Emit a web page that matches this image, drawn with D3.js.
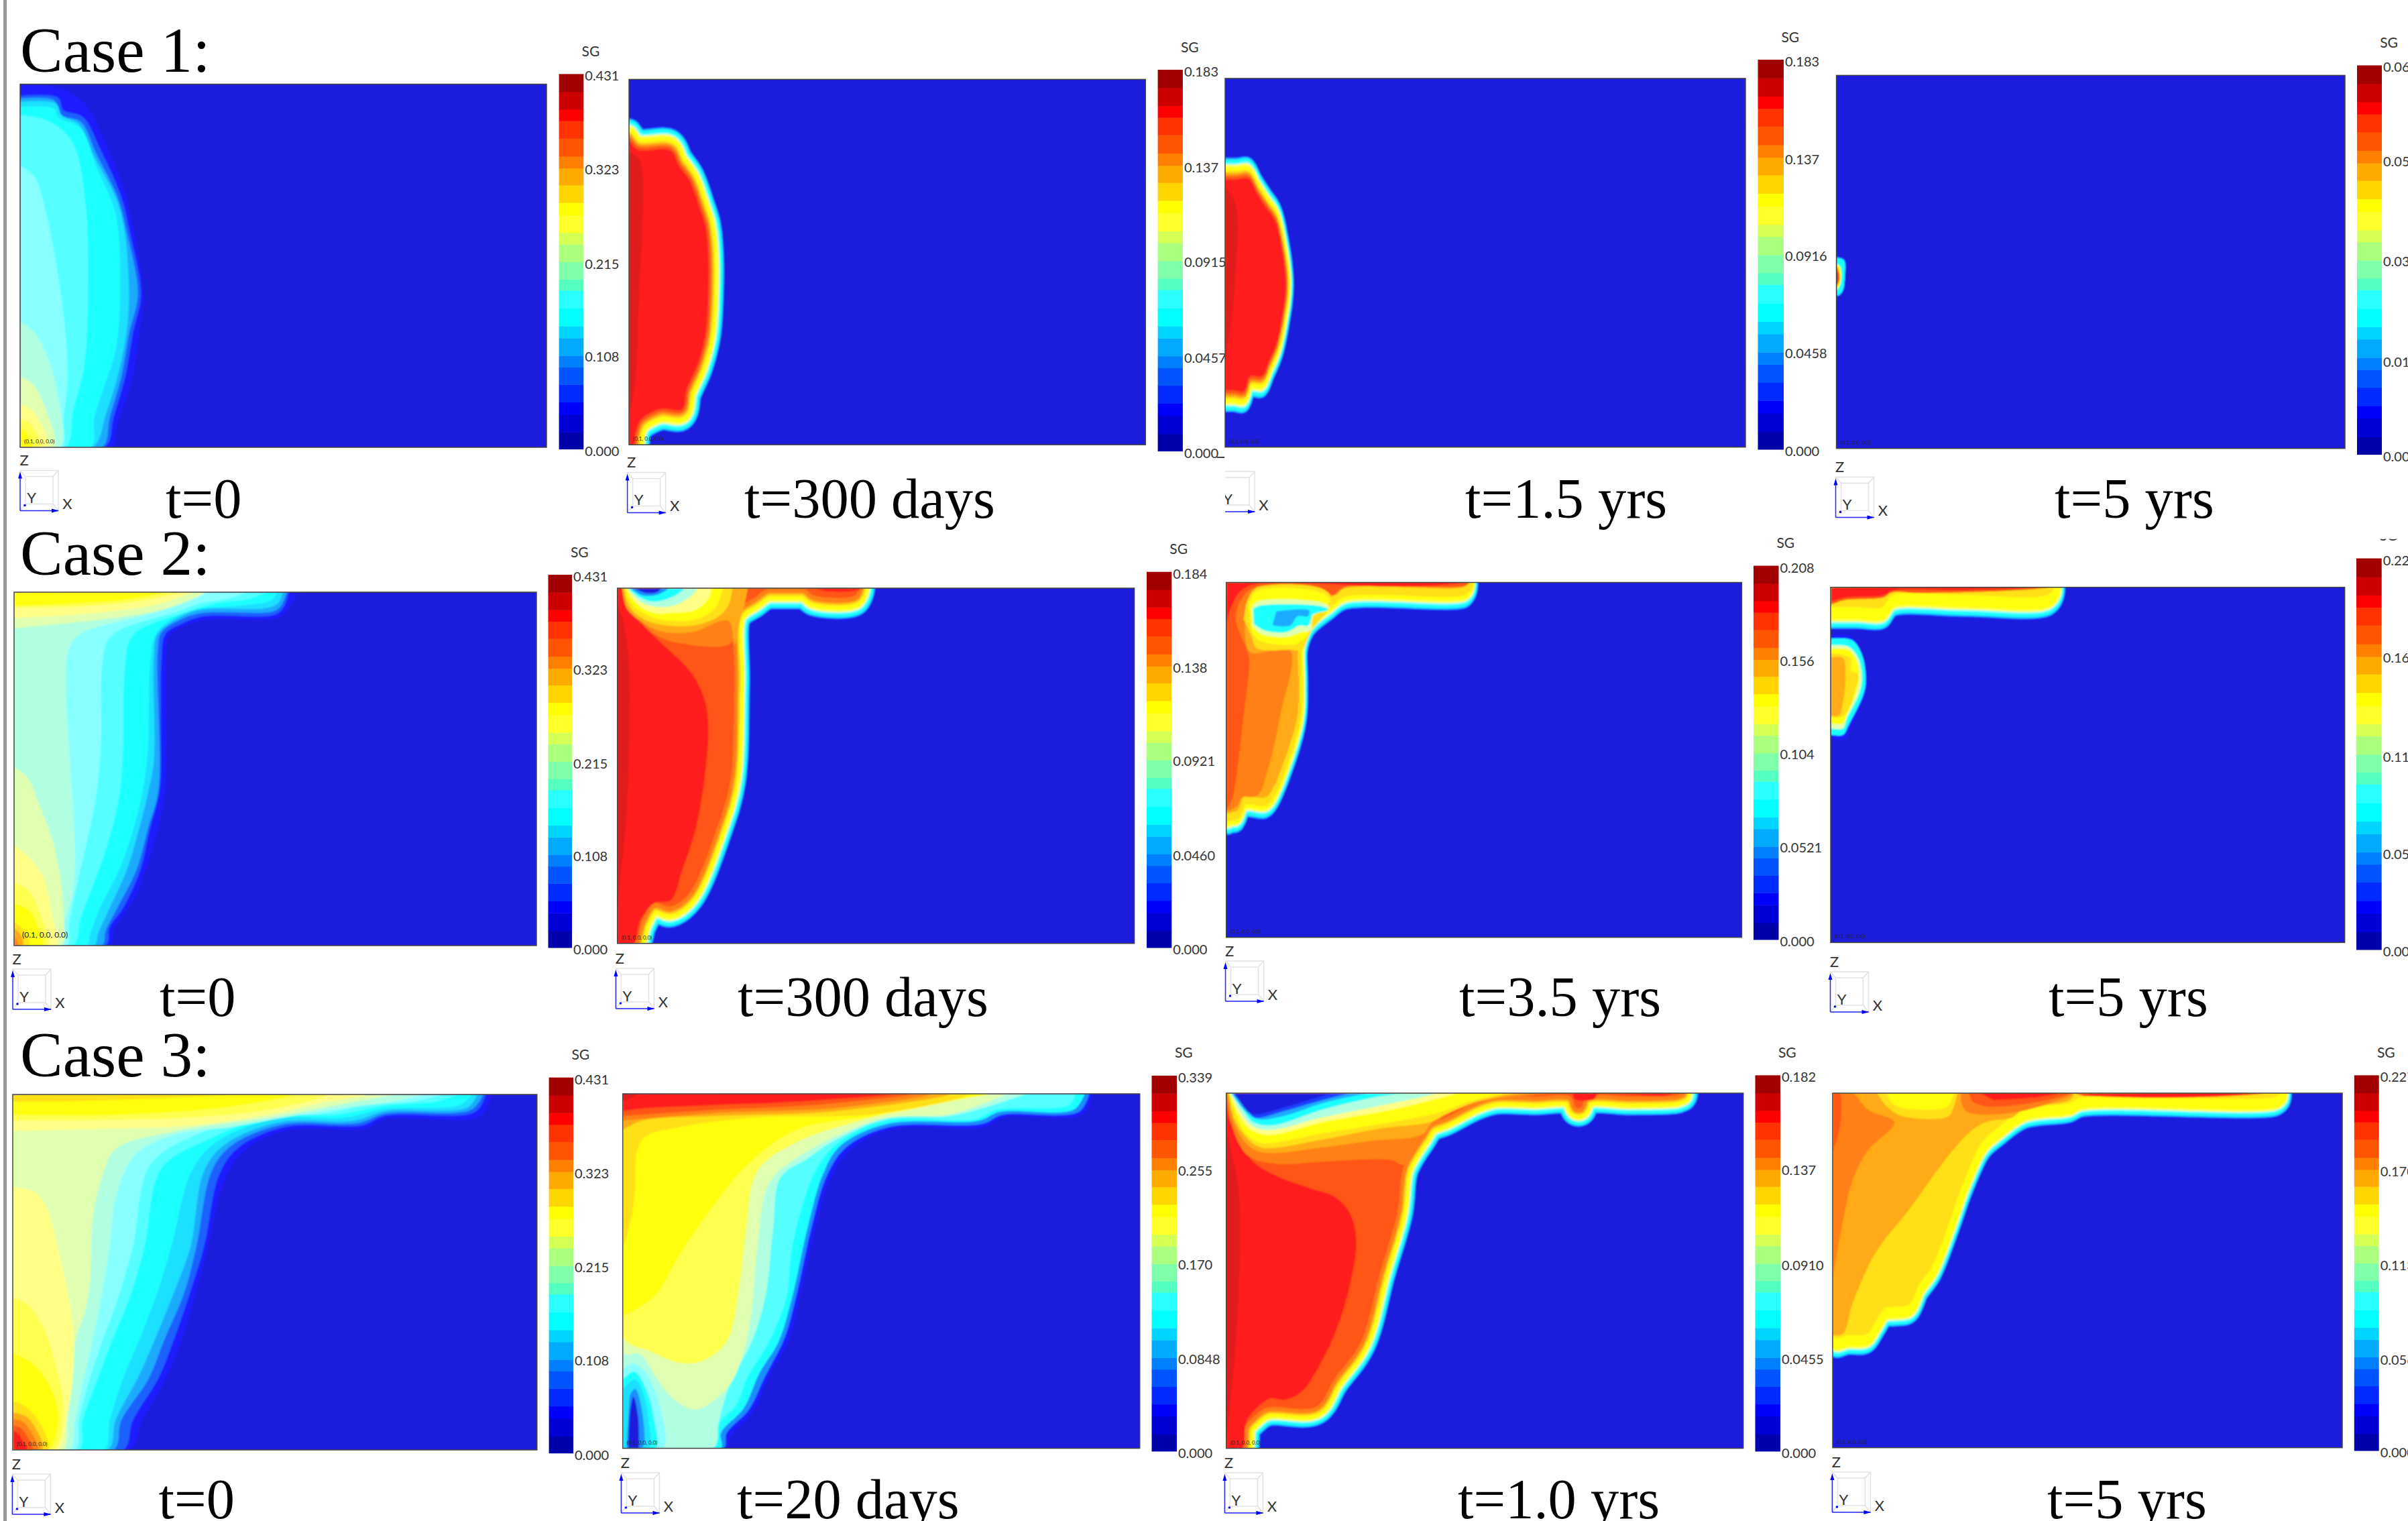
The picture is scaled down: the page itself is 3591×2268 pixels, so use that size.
<!DOCTYPE html>
<html>
<head>
<meta charset="utf-8">
<script src="https://cdn.jsdelivr.net/npm/d3@7"></script>
<style>
  html, body { margin: 0; padding: 0; background: #fff; overflow: hidden; }
</style>
</head>
<body>
<div id="chart"></div>
<script>
// Colour classes of the SG map, lowest class first
const barColors = ["#0000aa", "#0000d5", "#0000ff", "#002aff", "#0055ff", "#0080ff", "#00aaff", "#00d5ff",
    "#00ffff", "#2affff", "#55ffc0", "#80ffaa", "#aaff7f", "#d4ff55", "#ffff2a", "#ffff00",
    "#ffd500", "#ffaa00", "#ff8000", "#ff5500", "#ff3300", "#ff0000", "#cc0000", "#a00000"];
// The same classes as they look on the lit surface of the model
const surfaceColors = ["#1a1adc", "#1a1adc", "#1a1aff", "#1a40ff", "#1a60ff", "#1a8cff", "#1aaaff", "#1ae0ff",
    "#1affff", "#55ffff", "#88ffff", "#b0ffe0", "#e0ffb0", "#ffff88", "#ffff50", "#ffff10",
    "#ffe018", "#ffaa18", "#ff8018", "#ff5518", "#ff1e1e", "#e01a1a", "#cc0000", "#a00000"];
// Class limits along the colour bar, as a share of the SG maximum
const barStops = [0, .045, .093, .125, .172, .218, .249, .296, .328, .375, .423, .453, .499,
    .546, .577, .624, .657, .704, .749, .781, .829, .875, .906, .953, 1];

const caseLabels = ["Case 1:", "Case 2:", "Case 3:"];

// SG tick labels per panel
const ticks11 = ["0.431", "0.323", "0.215", "0.108", "0.000"];
const ticks12 = ["0.183", "0.137", "0.0915", "0.0457", "0.000"];
const ticks13 = ["0.183", "0.137", "0.0916", "0.0458", "0.000"];
const ticks14 = ["0.066", "0.050", "0.033", "0.016", "0.000"];
const ticks22 = ["0.184", "0.138", "0.0921", "0.0460", "0.000"];
const ticks23 = ["0.208", "0.156", "0.104", "0.0521", "0.000"];
const ticks24 = ["0.225", "0.169", "0.112", "0.056", "0.000"];
const ticks32 = ["0.339", "0.255", "0.170", "0.0848", "0.000"];
const ticks33 = ["0.182", "0.137", "0.0910", "0.0455", "0.000"];
const ticks34 = ["0.227", "0.170", "0.113", "0.056", "0.000"];

// Contours: [class, outline] painted outermost first.
// A third item "front" marks the inner edge of a sharp front, the thin classes around it are stroked out from it.
const contours11 = [
    [2, [[52,255],[150,262],[220,310],[270,420],[320,560],[345,680],[368,830],[372,900],[355,1050],[345,1130],[320,1220],[300,1290],[290,1340],[52,1340]]],
    [4, [[52,287],[150,292],[165,330],[215,350],[262,450],[315,590],[338,700],[366,880],[345,1000],[325,1130],[295,1250],[272,1340],[52,1340]]],
    [6, [[52,295],[140,300],[160,345],[210,365],[250,460],[305,590],[328,690],[358,880],[335,1000],[315,1130],[285,1250],[265,1340],[52,1340]]],
    [7, [[52,305],[145,310],[160,345],[205,372],[245,470],[300,590],[322,680],[335,880],[328,1000],[305,1130],[275,1240],[240,1340],[52,1340]]],
    [8, [[52,320],[140,325],[150,350],[210,385],[250,500],[300,640],[312,880],[300,1050],[270,1160],[245,1250],[235,1340],[52,1340]]],
    [9, [[52,345],[120,360],[185,420],[220,590],[228,900],[218,1100],[190,1230],[170,1340],[52,1340]]],
    [10, [[52,495],[90,530],[120,640],[150,820],[170,1000],[175,1150],[165,1250],[160,1340],[52,1340]]],
    [11, [[52,965],[85,990],[120,1060],[150,1180],[155,1340],[52,1340]]],
    [12, [[52,1128],[85,1150],[120,1230],[140,1340],[52,1340]]],
    [13, [[52,1210],[80,1225],[115,1290],[125,1340],[52,1340]]],
    [14, [[52,1255],[75,1265],[95,1300],[105,1340],[52,1340]]],
    [15, [[52,1280],[70,1300],[85,1340],[52,1340]]]
];
const contours12 = [
    [20, [[66,420],[88,448],[175,452],[195,495],[225,545],[250,625],[265,680],[272,760],[272,880],[265,1000],[245,1090],[215,1170],[205,1225],[150,1225],[118,1240],[95,1260],[82,1300],[78,1333],[66,1333]], "front"],
    [21, [[66,455],[88,470],[100,510],[100,700],[92,880],[85,1100],[75,1200],[66,1240]]]
];
const contours13 = [
    [20, [[47,538],[75,538],[110,538],[130,580],[155,625],[178,665],[190,720],[205,850],[195,950],[180,1030],[160,1085],[145,1125],[110,1130],[98,1170],[70,1170],[47,1170]], "front"],
    [21, [[47,560],[70,600],[80,660],[75,800],[65,950],[52,1050],[47,1100]]]
];
const contours14 = [
    [2, [[68,768],[90,776],[92,830],[87,872],[77,888],[68,888]]],
    [8, [[68,772],[88,780],[90,830],[85,870],[75,885],[68,885]]],
    [15, [[68,790],[78,800],[80,840],[75,860],[68,870]]],
    [18, [[68,797],[74,810],[76,840],[68,862]]],
    [21, [[68,805],[73,820],[73,845],[68,855]]]
];
const contours21 = [
    [2, [[37,215],[765,215],[748,268],[722,295],[540,300],[480,320],[440,350],[432,420],[432,600],[430,830],[395,1020],[350,1170],[310,1240],[295,1270],[285,1317],[37,1317]]],
    [4, [[750,215],[738,260],[715,285],[530,290],[475,312],[430,345],[420,420],[418,600],[415,830],[388,960],[365,1080],[320,1200],[285,1260],[275,1317],[37,1317],[37,215]]],
    [6, [[745,215],[730,258],[710,275],[525,280],[470,300],[420,340],[410,400],[412,830],[385,950],[355,1080],[305,1200],[275,1270],[265,1317],[37,1317],[37,215]]],
    [7, [[735,215],[722,250],[690,265],[520,270],[465,295],[410,345],[400,420],[400,740],[385,840],[360,960],[330,1080],[285,1200],[255,1280],[245,1317],[37,1317],[37,215]]],
    [8, [[720,215],[705,240],[640,255],[515,268],[460,290],[405,345],[390,450],[385,700],[370,840],[345,960],[310,1080],[260,1200],[235,1280],[225,1317],[37,1317],[37,215]]],
    [9, [[690,215],[650,235],[560,250],[490,275],[345,350],[325,450],[320,700],[310,850],[280,1000],[245,1120],[210,1230],[190,1317],[37,1317],[37,215]]],
    [10, [[640,215],[600,232],[520,250],[470,272],[290,350],[268,420],[262,700],[250,850],[225,1000],[200,1130],[180,1250],[175,1317],[37,1317],[37,215]]],
    [11, [[540,215],[500,240],[400,280],[210,345],[180,390],[172,500],[180,700],[195,1000],[190,1150],[165,1260],[160,1317],[37,1317],[37,215]]],
    [12, [[37,215],[530,215],[500,235],[420,270],[300,295],[150,315],[37,328]]],
    [13, [[37,215],[500,215],[480,225],[400,255],[200,285],[37,295]]],
    [14, [[37,215],[470,215],[440,225],[350,245],[200,260],[37,262]]],
    [15, [[37,215],[420,215],[350,235],[200,250],[37,258]]],
    [12, [[37,760],[70,790],[110,900],[140,1000],[160,1130],[165,1220],[160,1317],[37,1317]]],
    [13, [[37,1005],[75,1040],[115,1110],[135,1220],[145,1317],[37,1317]]],
    [14, [[37,1120],[75,1145],[105,1220],[125,1317],[37,1317]]],
    [15, [[37,1185],[75,1205],[100,1260],[112,1317],[37,1317]]],
    [16, [[37,1245],[60,1265],[75,1317],[37,1317]]],
    [17, [[37,1262],[55,1285],[60,1317],[37,1317]]],
    [18, [[37,1290],[50,1317],[37,1317]]]
];
const contours22 = [
    [19, [[665,203],[655,225],[545,225],[520,203],[430,203],[395,230],[345,280],[340,500],[330,800],[295,950],[225,1150],[175,1195],[130,1185],[100,1240],[80,1310],[36,1310],[36,203]], "front"],
    [20, [[36,203],[50,203],[60,265],[75,285],[120,340],[160,385],[230,470],[265,560],[272,660],[262,800],[240,950],[205,1080],[175,1175],[130,1185],[95,1240],[78,1310],[36,1310]]],
    [21, [[36,260],[50,300],[65,420],[68,600],[60,900],[40,1150],[36,1200]]],
    [18, [[50,203],[60,265],[85,290],[130,345],[200,375],[330,375],[345,300],[360,260],[365,203]]],
    [17, [[48,203],[60,265],[95,305],[150,338],[230,340],[325,305],[340,380],[355,300],[365,260],[375,203]]],
    [16, [[52,203],[68,262],[105,300],[170,320],[240,318],[300,290],[325,255],[335,203]]],
    [15, [[55,203],[75,255],[120,290],[180,305],[240,300],[290,265],[310,203]]],
    [13, [[60,203],[85,250],[130,280],[180,280],[240,270],[275,230],[280,203]]],
    [11, [[62,203],[90,240],[130,260],[180,258],[225,230],[245,203]]],
    [8, [[65,203],[95,232],[130,245],[170,235],[200,215],[210,203]]],
    [5, [[70,203],[100,225],[135,225],[155,215],[170,203]]],
    [1, [[80,203],[110,218],[140,215],[150,203]]],
    [20, [[550,203],[575,212],[650,212],[672,203]]]
];
const contours23 = [
    [17, [[680,185],[670,198],[355,205],[320,235],[260,300],[238,380],[238,500],[235,600],[195,760],[165,840],[150,855],[95,855],[80,895],[65,900],[50,900],[50,185]], "front"],
    [18, [[50,185],[680,185],[668,197],[360,200],[330,225],[300,200],[130,198],[110,400],[215,395],[190,600],[160,760],[130,850],[90,855],[80,880],[50,900]]],
    [19, [[50,185],[680,185],[670,195],[355,200],[325,225],[300,210],[125,200],[90,235],[75,300],[105,400],[110,430],[95,600],[75,800],[65,860],[50,895]]],
    [16, [[100,260],[125,205],[300,205],[325,240],[270,340],[245,395],[215,395],[130,390],[115,350],[95,300]]],
    [15, [[108,270],[125,215],[300,218],[320,245],[265,280],[262,345],[235,375],[210,380],[135,365],[115,335]]],
    [12, [[115,265],[130,245],[300,248],[318,262],[275,290],[270,335],[245,340],[205,355],[140,345],[118,320]]],
    [8, [[120,268],[135,258],[300,260],[315,270],[275,285],[270,300],[262,320],[240,320],[205,340],[150,335],[122,315]]],
    [6, [[180,275],[265,272],[262,290],[235,290],[215,320],[170,318]]],
    [20, [[50,185],[660,185],[560,197],[400,196],[320,190],[130,188],[85,215],[55,290],[50,340]]]
];
const contours24 = [
    [16, [[53,200],[640,200],[625,222],[400,224],[215,225],[200,245],[190,262],[120,262],[53,262]], "front"],
    [19, [[53,200],[620,200],[560,208],[280,218],[215,215],[190,232],[90,240],[53,255]]],
    [20, [[53,200],[600,200],[400,208],[215,210],[190,225],[90,232],[53,245]]],
    [2, [[53,350],[105,352],[130,395],[150,480],[145,530],[105,640],[90,672],[53,672]]],
    [8, [[53,360],[110,365],[135,410],[145,480],[140,530],[100,630],[85,660],[53,660]]],
    [12, [[53,380],[100,385],[125,420],[135,480],[128,530],[95,610],[85,640],[53,640]]],
    [15, [[53,392],[100,395],[122,430],[128,480],[120,530],[95,600],[85,625],[53,625]]],
    [16, [[53,405],[105,420],[108,460],[125,470],[115,530],[95,590],[80,605],[53,605]]],
    [17, [[53,418],[85,420],[92,470],[85,560],[75,600],[53,600]]]
];
const contours31 = [
    [2, [[1275,217],[1250,285],[1000,295],[950,325],[745,330],[640,390],[590,470],[550,640],[540,700],[510,840],[470,1000],[430,1120],[370,1250],[335,1343],[33,1343],[33,217]]],
    [4, [[1262,217],[1235,272],[1000,285],[940,315],[740,320],[620,385],[570,470],[530,700],[495,840],[450,1000],[410,1120],[345,1250],[320,1343],[33,1343],[33,217]]],
    [6, [[1255,217],[1225,265],[1000,278],[930,308],[735,312],[600,380],[550,460],[510,700],[480,840],[425,1000],[385,1120],[315,1250],[295,1343],[33,1343],[33,217]]],
    [7, [[1240,217],[1215,258],[1000,270],[920,300],[725,305],[585,375],[530,460],[495,700],[450,850],[400,1000],[360,1110],[300,1250],[280,1343],[33,1343],[33,217]]],
    [8, [[1225,217],[1195,250],[1000,262],[900,290],[715,295],[565,365],[500,455],[445,700],[410,840],[360,1000],[325,1100],[285,1250],[270,1343],[33,1343],[33,217]]],
    [9, [[1190,217],[1130,240],[1000,252],[880,280],[700,288],[540,360],[420,450],[375,700],[340,850],[290,1000],[250,1130],[215,1250],[205,1343],[33,1343],[33,217]]],
    [10, [[1150,217],[1080,238],[960,250],[820,280],[680,285],[500,350],[390,440],[345,700],[310,850],[265,1000],[230,1130],[205,1250],[195,1343],[33,1343],[33,217]]],
    [11, [[1100,217],[1020,240],[900,258],[760,285],[600,320],[450,345],[350,410],[300,550],[285,700],[265,850],[240,1000],[215,1130],[195,1250],[180,1343],[33,1343],[33,217]]],
    [12, [[1030,217],[900,245],[700,290],[450,335],[300,390],[265,480],[240,620],[235,800],[222,900],[195,1000],[180,1130],[175,1250],[165,1343],[33,1343],[33,217]]],
    [13, [[33,217],[950,217],[830,245],[700,280],[500,315],[300,325],[33,333]]],
    [13, [[33,510],[90,525],[120,570],[150,700],[190,950],[190,1100],[172,1250],[150,1343],[33,1343]]],
    [14, [[33,217],[850,217],[700,265],[500,290],[250,298],[33,300]]],
    [14, [[33,862],[70,880],[115,960],[150,1100],[165,1200],[140,1343],[33,1343]]],
    [15, [[33,217],[760,217],[600,255],[300,282],[33,282]]],
    [15, [[33,1037],[75,1060],[115,1110],[148,1200],[150,1270],[125,1343],[33,1343]]],
    [16, [[33,217],[600,217],[400,230],[200,238],[33,240]]],
    [16, [[33,1190],[60,1200],[105,1260],[125,1343],[33,1343]]],
    [17, [[33,1225],[65,1235],[95,1280],[110,1343],[33,1343]]],
    [18, [[33,1245],[60,1255],[85,1295],[100,1343],[33,1343]]],
    [19, [[33,1265],[55,1275],[75,1310],[85,1343],[33,1343]]],
    [20, [[33,1280],[45,1290],[62,1320],[70,1343],[33,1343]]]
];
const contours32 = [
    [2, [[1270,215],[1245,280],[1040,290],[990,320],[745,328],[640,395],[590,480],[550,640],[510,860],[480,1000],[430,1110],[390,1220],[330,1300],[320,1338],[50,1338],[50,215]]],
    [5, [[1262,215],[1235,272],[1035,282],[985,310],[742,320],[630,385],[580,475],[540,640],[500,860],[470,990],[420,1110],[378,1215],[320,1290],[312,1338],[50,1338],[50,215]]],
    [8, [[1250,215],[1222,265],[1030,272],[975,300],[738,310],[615,380],[570,470],[530,640],[490,860],[455,1000],[405,1100],[365,1210],[305,1290],[305,1338],[50,1338],[50,215]]],
    [9, [[1225,215],[1210,250],[1020,265],[965,295],[735,300],[610,370],[550,460],[490,700],[475,860],[430,1000],[375,1110],[345,1200],[300,1260],[285,1338],[50,1338],[50,215]]],
    [11, [[1100,215],[1000,255],[900,285],[730,295],[590,370],[530,420],[460,480],[440,650],[420,860],[385,1000],[330,1130],[300,1250],[285,1338],[50,1338],[50,215]]],
    [12, [[1050,215],[900,280],[720,295],[500,420],[430,500],[400,700],[385,900],[360,1050],[320,1150],[240,1215],[180,1180],[135,1110],[95,1040],[50,1035],[50,215]]],
    [14, [[1000,215],[800,265],[700,290],[500,370],[400,460],[370,650],[350,850],[320,1000],[260,1060],[200,1068],[120,1030],[50,985],[50,215]]],
    [15, [[50,215],[1000,215],[850,245],[700,285],[500,330],[370,445],[280,580],[200,720],[130,860],[50,920]]],
    [16, [[50,215],[950,215],[700,280],[400,290],[200,320],[110,350],[88,395],[80,550],[60,670],[50,700]]],
    [17, [[50,215],[900,215],[600,270],[300,285],[100,300],[50,330]]],
    [18, [[50,215],[850,215],[600,260],[300,275],[50,300]]],
    [19, [[50,215],[800,215],[550,250],[300,265],[50,285]]],
    [20, [[50,215],[750,215],[500,240],[300,250],[100,262],[50,270]]],
    [21, [[50,215],[90,215],[60,235],[50,240]]],
    [10, [[50,1090],[75,1070],[110,1100],[145,1200],[155,1338],[50,1338]]],
    [8, [[50,1120],[80,1095],[110,1150],[130,1240],[135,1338],[50,1338]]],
    [7, [[50,1150],[82,1120],[105,1170],[118,1260],[118,1338],[50,1338]]],
    [5, [[68,1170],[82,1150],[100,1220],[100,1338],[60,1338]]],
    [1, [[65,1338],[68,1230],[78,1175],[90,1240],[92,1338]]]
];
const contours33 = [
    [19, [[1235,213],[1218,220],[1100,224],[985,225],[972,258],[958,258],[945,225],[850,224],[750,222],[700,240],[620,290],[580,310],[560,345],[510,450],[495,590],[450,780],[400,1000],[330,1120],[285,1205],[155,1210],[120,1240],[100,1270],[92,1338],[50,1338],[50,213]], "front"],
    [20, [[50,213],[60,300],[95,380],[120,430],[180,475],[270,515],[330,540],[370,590],[388,680],[375,800],[340,950],[290,1080],[245,1160],[200,1185],[165,1180],[125,1215],[100,1260],[92,1338],[50,1338]]],
    [21, [[50,330],[80,500],[85,700],[75,1000],[55,1250],[50,1300]]],
    [18, [[50,213],[60,300],[105,410],[180,437],[300,430],[480,425],[510,440],[560,345],[640,270],[750,235],[900,213]]],
    [17, [[53,213],[68,300],[100,370],[140,400],[300,385],[420,365],[560,343],[585,305],[640,260],[750,230],[850,213]]],
    [16, [[55,213],[72,300],[100,350],[140,385],[300,360],[450,325],[580,305],[620,280],[700,240],[800,213]]],
    [15, [[57,213],[78,290],[100,340],[140,370],[300,340],[500,300],[600,275],[680,240],[770,213]]],
    [13, [[59,213],[82,280],[110,325],[160,345],[300,305],[480,265],[600,230],[650,213]]],
    [11, [[61,213],[88,275],[115,315],[160,330],[300,290],[460,250],[560,225],[600,213]]],
    [8, [[63,213],[93,265],[120,305],[170,315],[300,265],[440,225],[520,213]]],
    [6, [[65,213],[100,270],[130,295],[200,285],[300,245],[390,220],[420,213]]],
    [3, [[68,213],[105,265],[125,290],[200,270],[300,235],[370,213]]],
    [1, [[72,213],[110,275],[130,280],[210,255],[300,222],[330,213]]],
    [20, [[950,213],[955,232],[1005,232],[1015,218],[1190,222],[1215,213]]]
];
const contours34 = [
    [16, [[1235,213],[1220,225],[710,228],[680,245],[560,265],[495,320],[450,370],[400,500],[365,620],[320,760],[285,820],[262,880],[225,890],[195,895],[170,940],[150,975],[100,980],[58,980],[58,213]], "front"],
    [17, [[58,213],[690,213],[680,235],[560,262],[530,290],[460,305],[415,340],[350,430],[260,580],[170,720],[110,880],[85,975],[58,980]]],
    [18, [[58,213],[110,213],[150,265],[220,305],[150,395],[110,490],[85,620],[58,800]]],
    [18, [[395,213],[690,213],[640,240],[530,275],[410,272],[395,240]]],
    [19, [[58,213],[75,213],[78,310],[58,400]]],
    [19, [[415,213],[680,213],[600,240],[460,255],[425,240]]],
    [20, [[445,213],[650,213],[600,225],[480,235]]],
    [16, [[175,213],[200,255],[240,285],[360,288],[375,260],[385,213]]],
    [15, [[200,213],[220,250],[290,265],[360,255],[375,213]]],
    [20, [[690,213],[1190,213],[1100,222],[900,228],[720,222]]]
];

// Layout of the twelve panels: read = frame edges in the units the contours were read in
const panels = [
    { time: "t=0", timeAt: [247, 772], read: [52, 1420, 1340, 252], frame: [30, 815, 667, 125.5], bar: [833.6, 870.3, 669.6, 110.4], ticks: ticks11, triad: [30, 701.5], contours: contours11 },
    { time: "t=300 days", timeAt: [1110, 772], read: [66, 1408, 1333, 238], frame: [938, 1708.3, 663.2, 118.4], bar: [1726.6, 1763.9, 672.6, 104], ticks: ticks12, triad: [935.6, 704.5], contours: contours12, front: [1, 1.4] },
    { time: "t=1.5 yrs", timeAt: [2185, 772], read: [47, 1399, 1340, 235], frame: [1827, 2603, 666.7, 116.9], bar: [2621.5, 2660, 670, 89], ticks: ticks13, triad: [1814, 703], contours: contours13, front: [.5, 2.8], triadCut: true },
    { time: "t=5 yrs", timeAt: [3064, 772], read: [68, 1403, 1344, 226], frame: [2738.6, 3497, 668.7, 112.4], bar: [3515, 3552, 677.6, 97.5], ticks: ticks14, triad: [2737.5, 711.4], contours: contours14 },
    { time: "t=0", timeAt: [238, 1514.5], read: [37, 1393, 1317, 215], frame: [21, 800, 1410, 883], bar: [817.5, 853, 1413, 857], ticks: ticks11, triad: [19, 1445], contours: contours21, noteSize: 12 },
    { time: "t=300 days", timeAt: [1100, 1514.5], read: [36, 1379, 1310, 203], frame: [920.7, 1691.6, 1406.8, 877], bar: [1710, 1747.3, 1413, 852.7], ticks: ticks22, triad: [918.4, 1444], contours: contours22, front: [1, 1.35] },
    { time: "t=3.5 yrs", timeAt: [2176, 1514.5], read: [50, 1389, 1291, 185], frame: [1828.7, 2597.4, 1397.7, 868.5], bar: [2615, 2652.5, 1401, 843.6], ticks: ticks23, triad: [1827.5, 1433], contours: contours23, front: [.6, 2.3] },
    { time: "t=5 yrs", timeAt: [3055, 1514.5], read: [53, 1402, 1307, 200], frame: [2730, 3496.6, 1405.4, 875.7], bar: [3514, 3551.7, 1416, 832.6], ticks: ticks24, triad: [2729.5, 1449], contours: contours24, front: [.7, 2], sgCut: true },
    { time: "t=0", timeAt: [236.5, 2264], read: [33, 1395, 1343, 217], frame: [19, 800.8, 2162, 1632], bar: [818.6, 855, 2166.7, 1606.7], ticks: ticks11, triad: [18.4, 2198], contours: contours31 },
    { time: "t=20 days", timeAt: [1099, 2264], read: [50, 1393, 1338, 215], frame: [928.7, 1699.7, 2159.6, 1631], bar: [1717.5, 1755, 2163.9, 1603.9], ticks: ticks32, triad: [926.4, 2196], contours: contours32 },
    { time: "t=1.0 yrs", timeAt: [2174, 2264], read: [50, 1393, 1338, 213], frame: [1828.7, 2599.7, 2159.6, 1630], bar: [2617.5, 2655, 2163.9, 1603.4], ticks: ticks33, triad: [1826.4, 2196], contours: contours33, front: [1, 1.2] },
    { time: "t=5 yrs", timeAt: [3053, 2264], read: [58, 1396, 1336, 213], frame: [2733, 3493, 2158.7, 1630], bar: [3510.8, 3547.7, 2163, 1603.4], ticks: ticks34, triad: [2732.4, 2195], contours: contours34, front: [.7, 1.8] }
];

// Class and distance in px of the thin bands around a sharp front, widest first
const frontBands = [[2, 24], [5, 23], [7, 22], [8, 20.5], [10, 17.5], [12, 16], [14, 15], [15, 13], [16, 9], [17, 7], [18, 5], [19, 3]];

const svgWidth = 3591;
const svgHeight = 2268;
const serif = "'Liberation Serif', serif";
const sans = "Lato, sans-serif";

const surfaceColor = d3.scaleOrdinal(d3.range(surfaceColors.length), surfaceColors);
const barColor = d3.scaleOrdinal(d3.range(barColors.length), barColors);

const svg = d3.select("#chart")
    .append("svg")
    .attr("width", svgWidth)
    .attr("height", svgHeight)
    .style("display", "block");

const defs = svg.append("defs");
defs.append("filter")
    .attr("id", "soften")
    .attr("x", "-2%").attr("y", "-2%").attr("width", "104%").attr("height", "104%")
    .append("feGaussianBlur")
    .attr("stdDeviation", 1);

// Grey rule down the left edge
svg.append("rect")
    .attr("x", 5).attr("y", 0)
    .attr("width", 5).attr("height", svgHeight)
    .attr("fill", "#999");

function drawPlot(panel, i) {
    const [left, right, bottom, top] = panel.frame;
    const [rx0, rx1, rz0, rz1] = panel.read;
    const xScale = d3.scaleLinear().domain([rx0, rx1]).range([left, right]);
    const zScale = d3.scaleLinear().domain([rz0, rz1]).range([bottom, top]);
    const [frontWidth, frontStretch] = panel.front || [1, 1];

    defs.append("clipPath")
        .attr("id", `frame${i}`)
        .append("rect")
        .attr("x", left).attr("y", top)
        .attr("width", right - left).attr("height", bottom - top);

    const plot = svg.append("g")
        .attr("clip-path", `url(#frame${i})`)
        .append("g")
        .attr("filter", "url(#soften)");

    // Blue background reaches past the frame so the blur has no pale rim
    plot.append("rect")
        .attr("x", left - 10).attr("y", top - 10)
        .attr("width", right - left + 20).attr("height", bottom - top + 20)
        .attr("fill", surfaceColor(0));

    const outline = d3.line().x(d => xScale(d[0])).y(d => zScale(d[1])).curve(d3.curveCatmullRom.alpha(0.5));
    const frontOutline = d3.line().x(d => xScale(d[0])).y(d => zScale(d[1]) / frontStretch).curve(d3.curveCatmullRom.alpha(0.5));

    panel.contours.forEach(([level, points, kind]) => {
        if (kind === "front") {
            // Stretched group, so the grid's tall cells give a thicker front going up than going across
            const frontGroup = plot.append("g").attr("transform", `scale(1,${frontStretch})`);
            frontBands.filter(d => d[0] < level).forEach(([bandLevel, distance]) => {
                frontGroup.append("path")
                    .attr("d", frontOutline(points) + "Z")
                    .attr("fill", surfaceColor(bandLevel))
                    .attr("stroke", surfaceColor(bandLevel))
                    .attr("stroke-width", 2 * distance * frontWidth)
                    .attr("stroke-linejoin", "round");
            });
            frontGroup.append("path")
                .attr("d", frontOutline(points) + "Z")
                .attr("fill", surfaceColor(level));
        } else {
            plot.append("path")
                .attr("d", outline(points) + "Z")
                .attr("fill", surfaceColor(level));
        }
    });

    // Frame
    svg.append("rect")
        .attr("x", left).attr("y", top)
        .attr("width", right - left).attr("height", bottom - top)
        .attr("fill", "none")
        .attr("stroke", "#444")
        .attr("stroke-width", 1.5);

    // Picked point note in the corner
    const noteSize = panel.noteSize || 8;
    svg.append("text")
        .attr("x", left + (panel.noteSize ? 12 : 6))
        .attr("y", bottom - (panel.noteSize ? 12 : 6))
        .attr("font-family", sans)
        .attr("font-size", noteSize)
        .attr("fill", "#222")
        .text("(0.1, 0.0, 0.0)");
}

function drawColorBar(panel) {
    const [barLeft, barRight, barBottom, barTop] = panel.bar;
    const maxValue = +panel.ticks[0];
    const barScale = d3.scaleLinear().domain([0, maxValue]).range([barBottom, barTop]);

    svg.append("g")
        .selectAll("rect")
        .data(barColors)
        .enter()
        .append("rect")
        .attr("x", barLeft)
        .attr("y", (d, i) => barScale(barStops[i + 1] * maxValue))
        .attr("width", barRight - barLeft)
        .attr("height", (d, i) => barScale(barStops[i] * maxValue) - barScale(barStops[i + 1] * maxValue) + 0.5)
        .attr("fill", (d, i) => barColor(i));

    const axis = d3.axisRight(barScale)
        .tickValues(panel.ticks.map(Number))
        .tickFormat((d, i) => panel.ticks[i])
        .tickSize(0)
        .tickPadding(2);

    const axisGroup = svg.append("g")
        .attr("transform", `translate(${barRight},3)`)
        .call(axis);
    axisGroup.select(".domain").remove();
    axisGroup.selectAll("text")
        .attr("font-family", sans)
        .attr("font-size", 20)
        .attr("fill", "#333");

    svg.append("text")
        .attr("x", (barLeft + barRight) / 2 + 29)
        .attr("y", barTop - 34)
        .attr("dy", "0.36em")
        .attr("text-anchor", "middle")
        .attr("font-family", sans)
        .attr("font-size", 21)
        .attr("fill", "#333")
        .text("SG");

    if (panel.sgCut) {
        svg.append("rect")
            .attr("x", barLeft).attr("y", barTop - 50)
            .attr("width", 70).attr("height", 21)
            .attr("fill", "#fff");
    }
}

function drawTriad(panel) {
    const [x, y] = panel.triad;
    const g = svg.append("g").attr("transform", `translate(${x},${y})`);

    g.append("rect")
        .attr("width", 57).attr("height", 60)
        .attr("fill", "none").attr("stroke", "#e2e2e2").attr("stroke-width", 1.5);
    g.append("rect")
        .attr("x", 8).attr("y", 9).attr("width", 41).attr("height", 41)
        .attr("fill", "none").attr("stroke", "#e2e2e2").attr("stroke-width", 1.5);
    [[0, 0, 8, 9], [57, 0, 49, 9], [0, 60, 8, 50], [57, 60, 49, 50]].forEach(c => {
        g.append("line")
            .attr("x1", c[0]).attr("y1", c[1]).attr("x2", c[2]).attr("y2", c[3])
            .attr("stroke", "#e2e2e2").attr("stroke-width", 1.5);
    });

    // Blue arrows of the x and z axes
    g.append("path").attr("d", "M0,60V8M57,60H0").attr("stroke", "#2a2aff").attr("stroke-width", 1.5).attr("fill", "none");
    g.append("path").attr("d", "M0,2L3,12H-3ZM58,60L47,57V63Z").attr("fill", "#0000ff");
    g.append("circle").attr("cx", 7).attr("cy", 52).attr("r", 1.8).attr("fill", "#0000ff");

    [["Z", 6, -15], ["Y", 17, 41], ["X", 70.5, 50]].forEach(([label, dx, dy]) => {
        g.append("text")
            .attr("x", dx).attr("y", dy)
            .attr("dy", "0.36em")
            .attr("text-anchor", "middle")
            .attr("font-family", sans)
            .attr("font-size", 22)
            .attr("fill", "#333")
            .text(label);
    });

    // This one lost its left part to the panel beside it
    if (panel.triadCut) {
        svg.append("rect")
            .attr("x", x - 6).attr("y", y - 20)
            .attr("width", panel.frame[0] - x + 6).attr("height", 90)
            .attr("fill", "#fff");
    }
}

panels.forEach((panel, i) => {
    drawPlot(panel, i);
    drawColorBar(panel);
    drawTriad(panel);

    svg.append("text")
        .attr("x", panel.timeAt[0])
        .attr("y", panel.timeAt[1])
        .attr("font-family", serif)
        .attr("font-size", 84.5)
        .attr("fill", "#000")
        .text(panel.time);
});

// Case titles
svg.selectAll(".case-label")
    .data(caseLabels)
    .enter()
    .append("text")
    .attr("class", "case-label")
    .attr("x", 30)
    .attr("y", (d, i) => [107, 857, 1605][i])
    .attr("font-family", serif)
    .attr("font-size", 95.5)
    .attr("fill", "#000")
    .text(d => d);
</script>
</body>
</html>
